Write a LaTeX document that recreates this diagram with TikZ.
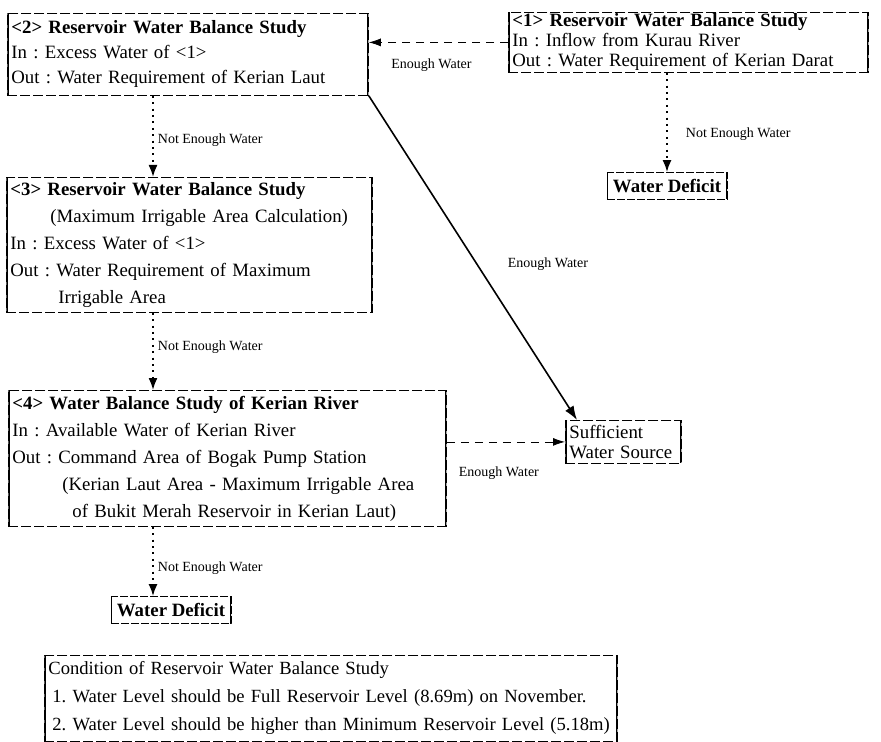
\documentclass[tikz,border=0pt]{standalone}
\usepackage{fontspec}
\setmainfont{Liberation Serif}
\usepackage{tikz}
\usetikzlibrary{positioning,arrows.meta}
\frenchspacing

\begin{document}
\begin{tikzpicture}[
    x=0.5pt, y=-0.5pt,
    sides/.style={path picture={\draw[solid, line width=1.4pt]
        (path picture bounding box.north west) -- (path picture bounding box.south west)
        (path picture bounding box.north east) -- (path picture bounding box.south east);}},
    studybox/.style={rectangle, draw, dash pattern=on 5pt off 1.5pt, line width=0.4pt, sides,
        anchor=north west, align=left, inner xsep=2pt, inner ysep=0pt},
    endbox/.style={rectangle, draw, dash pattern=on 4pt off 1pt, line width=0.4pt, sides,
        minimum width=60pt, minimum height=13.5pt, inner sep=1pt, font=\bfseries},
    lbl/.style={font=\fontsize{7}{8}\selectfont, inner sep=1pt},
    notenough/.style={-{Latex[length=6pt,width=4.5pt]}, line width=0.9pt, dash pattern=on 1pt off 2.2pt},
    enough/.style={-{Latex[length=6pt,width=4pt]}, line width=0.4pt, dash pattern=on 4pt off 3pt}
]
    \useasboundingbox (0,0) rectangle (881,742);

    % Study <2>
    \node[studybox, text width=176.5pt, minimum height=41pt,
        font=\fontsize{9.4}{12.5}\selectfont] (s2) at (7,13) {
        \textbf{<2> Reservoir Water Balance Study}\\
        In : Excess Water of <1>\\
        Out : Water Requirement of Kerian Laut
    };

    % Study <1>
    \node[studybox, text width=176pt, minimum height=30pt,
        font=\fontsize{9.4}{10}\selectfont] (s1) at (508,12) {
        \textbf{<1> Reservoir Water Balance Study}\\
        In : Inflow from Kurau River\\
        Out : Water Requirement of Kerian Darat
    };

    % Study <3>
    \node[studybox, text width=179pt, minimum height=67.5pt,
        font=\fontsize{9.4}{13.5}\selectfont] (s3) at (6,177) {
        \textbf{<3> Reservoir Water Balance Study}\\
        \hspace*{20pt}(Maximum Irrigable Area Calculation)\\
        In : Excess Water of <1>\\
        Out : Water Requirement of Maximum\\
        \hspace*{24pt}Irrigable Area
    };

    % Study <4>
    \node[studybox, text width=215pt, minimum height=68pt,
        font=\fontsize{9.4}{13.5}\selectfont] (s4) at (8,390) {
        \textbf{<4> Water Balance Study of Kerian River}\\
        In : Available Water of Kerian River\\
        Out : Command Area of Bogak Pump Station\\
        \hspace*{25pt}(Kerian Laut Area - Maximum Irrigable Area\\
        \hspace*{30pt}of Bukit Merah Reservoir in Kerian Laut)
    };

    % Results
    \node[studybox, text width=54pt, minimum height=21.5pt,
        font=\fontsize{9.4}{10}\selectfont] (source) at (565,420) {
        Sufficient\\
        Water Source
    };
    \node[endbox, font=\fontsize{9.4}{10}\selectfont\bfseries] (deficit1) at (667,186) {Water Deficit};
    \node[endbox, font=\fontsize{9.4}{10}\selectfont\bfseries] (deficit2) at (171,610) {Water Deficit};

    % Condition
    \node[studybox, text width=282.5pt, minimum height=43pt,
        font=\fontsize{9.3}{14}\selectfont] (cond) at (44,655) {
        Condition of Reservoir Water Balance Study\\
        \hspace*{2pt}1. Water Level should be Full Reservoir Level (8.69m) on November.\\
        \hspace*{2pt}2. Water Level should be higher than Minimum Reservoir Level (5.18m)
    };

    % Links
    \coordinate (spine) at (153,0);
    \draw[enough] (s1.west) -- node[lbl, below=7pt, pos=0.55] {Enough Water} (s1.west -| s2.east);
    \draw[notenough] (s1.south -| deficit1.north) -- node[lbl, right=8pt, pos=0.62] {Not Enough Water} (deficit1.north);
    \draw[notenough] (s2.south -| spine) -- node[lbl, right=1pt, pos=0.55] {Not Enough Water} (s3.north -| spine);
    \draw[notenough] (s3.south -| spine) -- node[lbl, right=1pt, pos=0.45] {Not Enough Water} (s4.north -| spine);
    \draw[notenough] (s4.south -| spine) -- node[lbl, right=1pt, pos=0.6] {Not Enough Water} (deficit2.north -| spine);
    \draw[-{Latex[length=7pt,width=5pt]}, line width=0.8pt] (s2.south east) -- node[lbl, right=14pt, pos=0.52] {Enough Water} ([xshift=6pt]source.north west);
    \draw[enough] (s4.east |- source.west) -- node[lbl, below=11pt, pos=0.44] {Enough Water} (source.west);
\end{tikzpicture}
\end{document}
